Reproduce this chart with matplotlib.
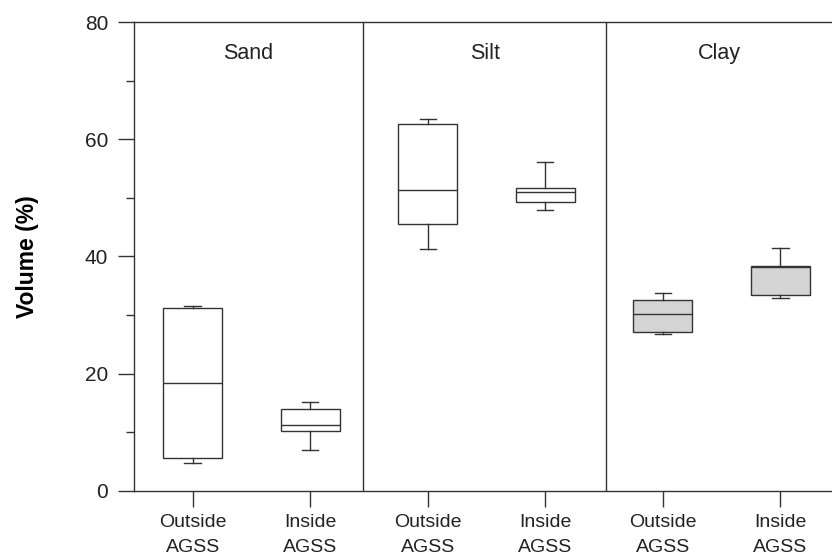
import matplotlib
matplotlib.use("Agg")
import matplotlib.pyplot as plt
from matplotlib.ticker import MultipleLocator

plt.rcParams['font.family'] = ['Liberation Sans', 'DejaVu Sans']

groups = ["Sand", "Silt", "Clay"]
tick_labels = ["Outside\nAGSS", "Inside\nAGSS"] * 3

# whisker low, box low, median, box high, whisker high (Volume %)
whislo = [4.8, 7.0, 41.2, 47.9, 26.7, 33.0]
q1 = [5.7, 10.2, 45.5, 49.3, 27.2, 33.5]
med = [18.5, 11.3, 51.3, 51.0, 30.2, 38.2]
q3 = [31.2, 14.0, 62.6, 51.6, 32.5, 38.4]
whishi = [31.6, 15.1, 63.5, 56.1, 33.8, 41.4]
fills = ["white", "white", "white", "white", "#d4d4d4", "#d4d4d4"]

stats = []
for i in range(6):
    stats.append({"whislo": whislo[i], "q1": q1[i], "med": med[i],
                  "q3": q3[i], "whishi": whishi[i], "fliers": []})

fig = plt.figure(figsize=(8.32, 5.57), dpi=100)
ax = fig.add_axes([0.161, 0.1185, 0.839, 0.842])

lc = "#333333"
positions = [1, 2, 3, 4, 5, 6]
bp = ax.bxp(stats, positions=positions, widths=0.5, patch_artist=True,
            showfliers=False, capwidths=0.14,
            boxprops=dict(edgecolor=lc, linewidth=1.0),
            medianprops=dict(color=lc, linewidth=1.0),
            whiskerprops=dict(color=lc, linewidth=1.0),
            capprops=dict(color=lc, linewidth=1.0))
for patch, c in zip(bp["boxes"], fills):
    patch.set_facecolor(c)

ax.set_xlim(0.5, 6.44)
ax.set_ylim(0, 80)

for xd in [2.45, 4.52]:
    ax.axvline(xd, color=lc, linewidth=1.0)

centers = [1.475, 3.485, 5.48]
for g, cx in zip(groups, centers):
    ax.text(cx, 74.7, g, ha="center", va="center", fontsize=15.5, color="#222222")

ax.set_xticks(positions)
ax.set_xticklabels(tick_labels, fontsize=14, color="#222222", linespacing=1.6)
ax.yaxis.set_major_locator(MultipleLocator(20))
ax.yaxis.set_minor_locator(MultipleLocator(10))
ax.tick_params(axis="y", which="major", direction="out", length=11.5, width=1,
               color=lc, labelsize=15, labelcolor="#222222", pad=7)
ax.tick_params(axis="y", which="minor", direction="out", length=5.8, width=1, color=lc)
ax.tick_params(axis="x", direction="out", length=11.5, width=1, color=lc, pad=5)

ax.spines["right"].set_visible(False)
for s in ["left", "top", "bottom"]:
    ax.spines[s].set_color(lc)
    ax.spines[s].set_linewidth(1.0)

ax.set_ylabel("Volume (%)", fontsize=16.5, fontweight="bold", labelpad=33)

fig.savefig("out.png", dpi=100)
